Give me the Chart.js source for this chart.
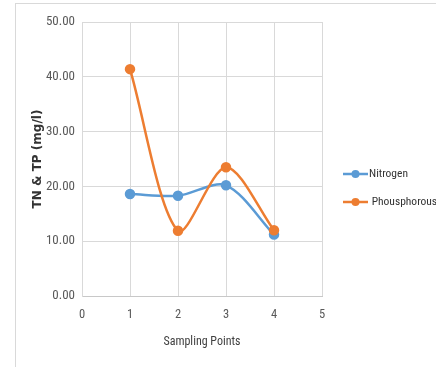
<!DOCTYPE html>
<html>
<head>
<meta charset="utf-8">
<script src="https://cdn.jsdelivr.net/npm/chart.js@4/dist/chart.umd.min.js"></script>
<style>
  html, body { margin: 0; padding: 0; background: #fff; }
  #wrap { position: relative; width: 436px; height: 367px; overflow: hidden; }
  #frame { position: absolute; left: 15px; top: 3px; width: 460px; height: 420px;
           border: 1px solid #d9d9d9; box-sizing: border-box; }
  canvas { position: absolute; left: 0; top: 0; }
</style>
</head>
<body>
<div id="wrap">
  <div id="frame"></div>
  <canvas id="c" width="436" height="367"></canvas>
</div>
<script>
// Sampling points and measured concentrations (mg/l)
const samplingPoints = [1, 2, 3, 4];
const nitrogen = [18.6, 18.3, 20.2, 11.2];
const phosphorus = [41.4, 11.9, 23.5, 12.0];
const seriesNames = ['Nitrogen', ' Phousphorous'];
const seriesColors = ['#5B9BD5', '#ED7D31'];
const xRange = [0, 5];
const yRange = [0, 50];

const narrow = "'Roboto Condensed', Roboto, sans-serif";

function toPoints(values) {
  return samplingPoints.map((x, i) => ({ x: x, y: values[i] }));
}

// Legend drawn to the right of the plot: line + marker + name
const sideLegend = {
  id: 'sideLegend',
  afterDraw(chart) {
    const ctx = chart.ctx;
    const area = chart.chartArea;
    const mid = (area.top + area.bottom) / 2;
    const rowY = [mid + 15, mid + 43];
    ctx.save();
    chart.data.datasets.forEach((ds, i) => {
      const y = rowY[i];
      const x1 = area.right + 21, x2 = area.right + 46;
      ctx.strokeStyle = ds.borderColor;
      ctx.lineWidth = 2.5;
      ctx.beginPath();
      ctx.moveTo(x1, y);
      ctx.lineTo(x2, y);
      ctx.stroke();
      ctx.fillStyle = ds.backgroundColor;
      ctx.beginPath();
      ctx.arc((x1 + x2) / 2, y, 4, 0, Math.PI * 2);
      ctx.fill();
      ctx.fillStyle = '#333333';
      ctx.font = '11.5px ' + narrow;
      ctx.textBaseline = 'middle';
      ctx.textAlign = 'left';
      ctx.fillText(ds.label, x2 + 1, y);
    });
    ctx.restore();
  }
};

const datasets = [nitrogen, phosphorus].map((vals, i) => ({
  label: seriesNames[i],
  data: toPoints(vals),
  borderColor: seriesColors[i],
  backgroundColor: seriesColors[i],
  pointBackgroundColor: seriesColors[i],
  pointBorderColor: seriesColors[i],
  pointRadius: 4,
  pointHoverRadius: 4,
  borderWidth: 2.5,
  showLine: true,
  tension: 0.3,
  order: i === 0 ? 1 : 0
}));

new Chart(document.getElementById('c'), {
  type: 'scatter',
  data: { datasets: datasets },
  options: {
    responsive: false,
    devicePixelRatio: 1,
    animation: false,
    events: [],
    layout: { padding: { top: 22, right: 114, left: 0, bottom: 0 } },
    plugins: {
      legend: { display: false },
      tooltip: { enabled: false }
    },
    scales: {
      x: {
        type: 'linear',
        min: xRange[0],
        max: xRange[1],
        ticks: { stepSize: 1, color: '#595959', padding: 11,
                 font: { family: narrow, size: 12.5 } },
        grid: { color: '#d9d9d9', drawTicks: false, lineWidth: 1 },
        border: { color: '#c8c8c8' },
        title: { display: true, text: 'Sampling Points', color: '#404040',
                 font: { family: narrow, size: 12 }, padding: { top: 0, bottom: 18 } },
        afterFit(scale) { scale.height = 71; }
      },
      y: {
        type: 'linear',
        min: yRange[0],
        max: yRange[1],
        ticks: { stepSize: 10, color: '#595959', padding: 7,
                 font: { family: narrow, size: 13 },
                 callback: v => Number(v).toFixed(2) },
        grid: { color: '#d9d9d9', drawTicks: false, lineWidth: 1 },
        border: { color: '#d9d9d9' },
        title: { display: true, text: 'TN & TP (mg/l)', color: '#333333',
                 font: { family: "'DejaVu Sans', sans-serif", size: 12, weight: 'bold' },
                 padding: { top: 31, bottom: 0 } },
        afterFit(scale) { scale.width = 82; }
      }
    }
  },
  plugins: [sideLegend]
});
</script>
</body>
</html>
